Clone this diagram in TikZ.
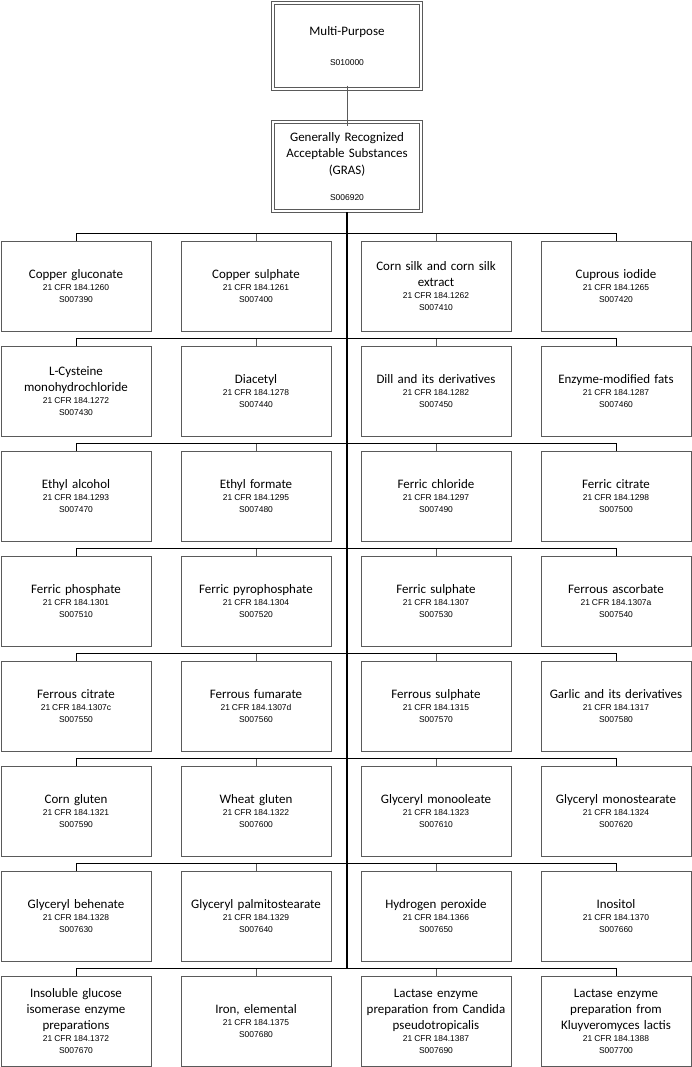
\documentclass[tikz,border=0pt]{standalone}
\usepackage{fontspec}
\setmainfont{Carlito}
\newfontfamily\codefont{Liberation Sans}
\usepackage{tikz}

\newcommand{\codesize}{\codefont\fontsize{8.5}{12}\selectfont\spaceskip=2bp\relax}
\newcommand{\reflines}[2]{\\{\codesize #1}\\{\codesize #2}}

\definecolor{boxgray}{HTML}{5A5A5A}

\begin{document}
\begin{tikzpicture}[x=1bp, y=-1bp]
        \useasboundingbox (0,0) rectangle (692,1067);

        % top of the tree
        \begin{scope}[every node/.style={draw=boxgray, line width=0.8bp, minimum width=145bp, inner sep=0pt, align=center, text width=140bp, font=\fontsize{13}{12}\selectfont}]
                \node [minimum height=83bp] (MP) at (347,46) {Multi-Purpose\\[18bp]{\codesize S010000}};
                \node [minimum height=86bp] (GRAS) at (347,166.5) {Generally Recognized\\[5bp]Acceptable Substances\\[5bp](GRAS)\\[14bp]{\codesize S006920}};
        \end{scope}
        \draw[boxgray, line width=0.8bp] ([xshift=-2.4bp,yshift=2.4bp]MP.north west) rectangle ([xshift=2.4bp,yshift=-2.4bp]MP.south east);
        \draw[boxgray, line width=0.8bp] ([xshift=-2.4bp,yshift=2.4bp]GRAS.north west) rectangle ([xshift=2.4bp,yshift=-2.4bp]GRAS.south east);

        % leaf boxes
        \begin{scope}[every node/.style={draw=boxgray, line width=0.8bp, minimum width=150bp, minimum height=90bp, inner sep=0pt, align=center, text width=146bp, font=\fontsize{13}{12}\selectfont}]
                \node (A1) at (76,286) {Copper gluconate\reflines{21 CFR 184.1260}{S007390}};
                \node (A2) at (256,286) {Copper sulphate\reflines{21 CFR 184.1261}{S007400}};
                \node (A3) at (436,286) {Corn silk and corn silk\\[4bp]extract\reflines{21 CFR 184.1262}{S007410}};
                \node (A4) at (616,286) {Cuprous iodide\reflines{21 CFR 184.1265}{S007420}};

                \node (B1) at (76,391) {L-Cysteine\\[4bp]monohydrochloride\reflines{21 CFR 184.1272}{S007430}};
                \node (B2) at (256,391) {Diacetyl\reflines{21 CFR 184.1278}{S007440}};
                \node (B3) at (436,391) {Dill and its derivatives\reflines{21 CFR 184.1282}{S007450}};
                \node (B4) at (616,391) {Enzyme-modified fats\reflines{21 CFR 184.1287}{S007460}};

                \node (C1) at (76,496) {Ethyl alcohol\reflines{21 CFR 184.1293}{S007470}};
                \node (C2) at (256,496) {Ethyl formate\reflines{21 CFR 184.1295}{S007480}};
                \node (C3) at (436,496) {Ferric chloride\reflines{21 CFR 184.1297}{S007490}};
                \node (C4) at (616,496) {Ferric citrate\reflines{21 CFR 184.1298}{S007500}};

                \node (D1) at (76,601) {Ferric phosphate\reflines{21 CFR 184.1301}{S007510}};
                \node (D2) at (256,601) {Ferric pyrophosphate\reflines{21 CFR 184.1304}{S007520}};
                \node (D3) at (436,601) {Ferric sulphate\reflines{21 CFR 184.1307}{S007530}};
                \node (D4) at (616,601) {Ferrous ascorbate\reflines{21 CFR 184.1307a}{S007540}};

                \node (E1) at (76,706) {Ferrous citrate\reflines{21 CFR 184.1307c}{S007550}};
                \node (E2) at (256,706) {Ferrous fumarate\reflines{21 CFR 184.1307d}{S007560}};
                \node (E3) at (436,706) {Ferrous sulphate\reflines{21 CFR 184.1315}{S007570}};
                \node (E4) at (616,706) {Garlic and its derivatives\reflines{21 CFR 184.1317}{S007580}};

                \node (F1) at (76,811) {Corn gluten\reflines{21 CFR 184.1321}{S007590}};
                \node (F2) at (256,811) {Wheat gluten\reflines{21 CFR 184.1322}{S007600}};
                \node (F3) at (436,811) {Glyceryl monooleate\reflines{21 CFR 184.1323}{S007610}};
                \node (F4) at (616,811) {Glyceryl monostearate\reflines{21 CFR 184.1324}{S007620}};

                \node (G1) at (76,916) {Glyceryl behenate\reflines{21 CFR 184.1328}{S007630}};
                \node (G2) at (256,916) {Glyceryl palmitostearate\reflines{21 CFR 184.1329}{S007640}};
                \node (G3) at (436,916) {Hydrogen peroxide\reflines{21 CFR 184.1366}{S007650}};
                \node (G4) at (616,916) {Inositol\reflines{21 CFR 184.1370}{S007660}};

                \node (H1) at (76,1021) {Insoluble glucose\\[4bp]isomerase enzyme\\[4bp]preparations\reflines{21 CFR 184.1372}{S007670}};
                \node (H2) at (256,1021) {Iron, elemental\reflines{21 CFR 184.1375}{S007680}};
                \node (H3) at (436,1021) {Lactase enzyme\\[4bp]preparation from Candida\\[4bp]pseudotropicalis\reflines{21 CFR 184.1387}{S007690}};
                \node (H4) at (616,1021) {Lactase enzyme\\[4bp]preparation from\\[4bp]Kluyveromyces lactis\reflines{21 CFR 184.1388}{S007700}};
        \end{scope}

        \begin{scope}[every path/.style={line width=0.8bp}]
                \draw[boxgray] ([yshift=2.4bp]MP.south) -- ([yshift=-2.4bp]GRAS.north);
                \foreach \r in {A,B,C,D,E,F,G,H} {
                        \draw (\r1.north) -- ++(0,-7) -| (\r4.north);
                        \draw[boxgray] (\r2.north) -- ++(0,-7);
                        \draw[boxgray] (\r3.north) -- ++(0,-7);
                }
                \coordinate (T) at ([yshift=7bp]H1.north);
                \draw[line width=2.2bp] ([yshift=-2.4bp]GRAS.south) -- (GRAS.south |- T);
        \end{scope}
\end{tikzpicture}
\end{document}
